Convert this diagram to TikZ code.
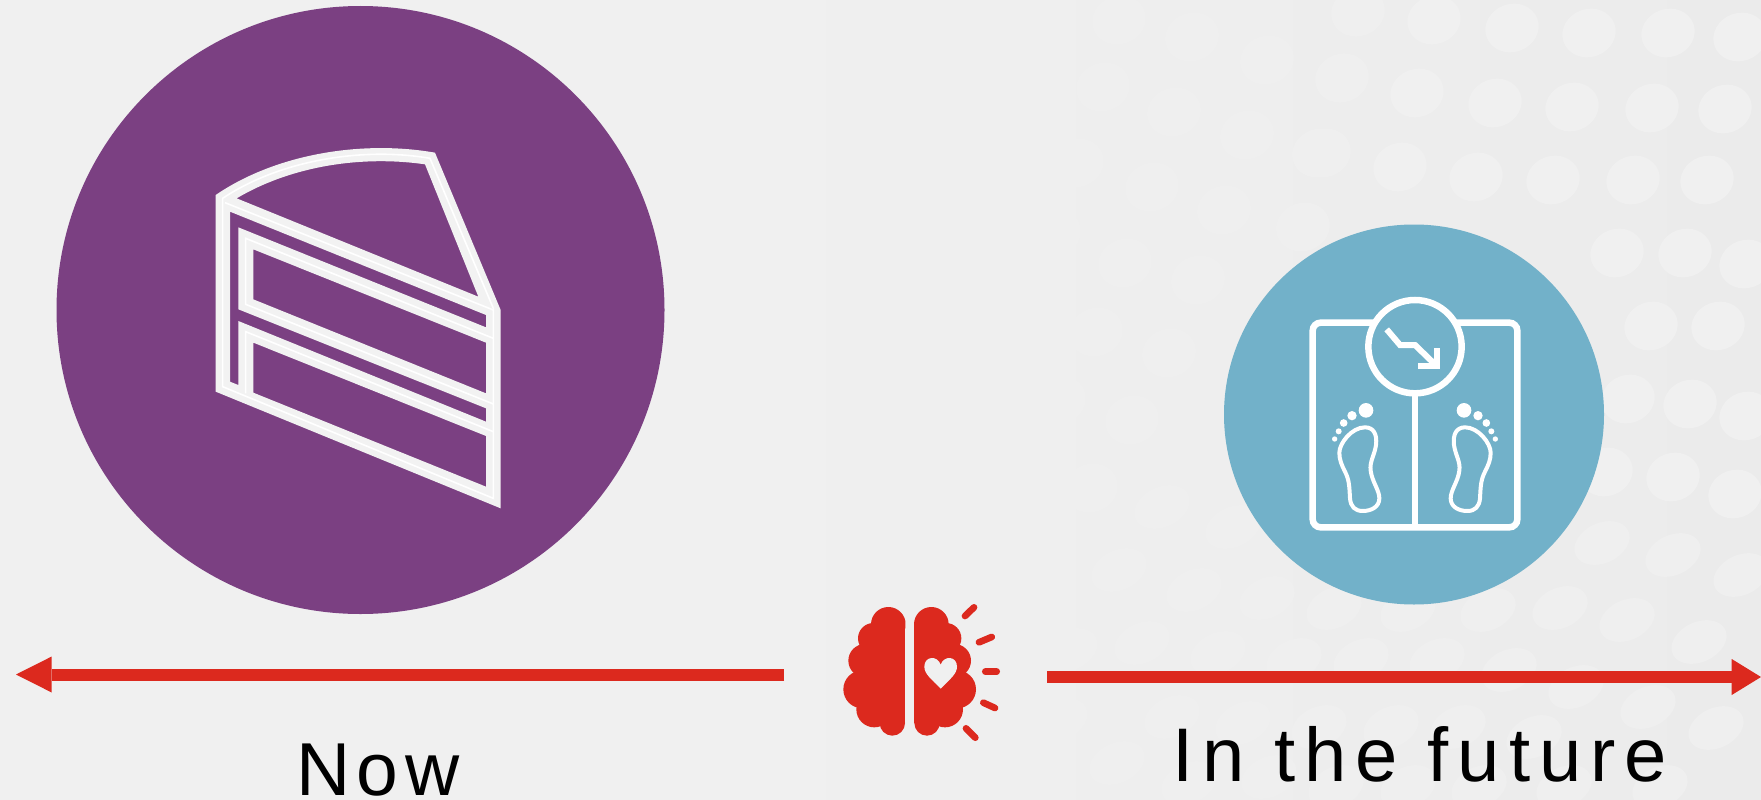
\documentclass[tikz,border=0pt]{standalone}
\usepackage{fontspec}
\setmainfont{Liberation Sans}
\usetikzlibrary{arrows.meta}
\definecolor{bgL}{HTML}{F0F0F0}
\definecolor{bgM}{HTML}{EEEEEE}
\definecolor{bgR}{HTML}{EBEBEB}
\definecolor{dotc}{HTML}{F0F0F0}
\definecolor{plum}{HTML}{7B4082}
\definecolor{sky}{HTML}{72B1C9}
\definecolor{redc}{HTML}{DC291E}
\definecolor{cakeline}{HTML}{F2F2F2}
\tikzset{
  bigdisc/.style={circle,inner sep=0pt,draw=none},
  timeline/.style={draw=redc,line width=12pt},
  caption/.style={inner sep=0pt,anchor=base west,text=black},
  icon/.style={draw=white,line width=6.5pt},
  ray/.style={redc,line width=6.7pt,line cap=round},
}
\begin{document}
\begin{tikzpicture}[x=1pt,y=-1pt]
\useasboundingbox (0,0) rectangle (1761,800);
% background
\fill[bgL] (0,0) rectangle (701,800);
\fill[left color=bgL,right color=bgM] (700,0) rectangle (1201,800);
\fill[left color=bgM,right color=bgR] (1200,0) rectangle (1761,800);
\foreach \px/\py in {957/30,1032/55,1119/20,1192/37,1267/60,937/100,1010/133,1103/87,1174/112,1247/135,1319/153,842/142,913/177,985/207,1077/163,1152/187,1224/210,1303/227,819/213,882/247,953/277,1054/233,1125/263,1198/280,1096/332,1169/353,1059/400,1132/420,989/378,916/347,851/323,812/378,876/412,948/440,1017/465,1091/488,771/443,839/475,903/500,726/497,794/530,862/560,1358/12,1434/20,1512/28,1589/33,1668/33,1740/37,1342/78,1417/93,1495/103,1572/107,1652/108,1725/109,1324/153,1400/167,1476/177,1553/180,1633/180,1707/180,1617/253,1685/253,1746/264,1651/326,1718/326,1628/399,1690/404,1746/416,1606/472,1673/477,1735/494}{
  \pgfmathsetmacro{\op}{min(1,max(.3,(\px-400)/1000))}
  \fill[dotc,fill opacity=\op] (\px,\py) circle [x radius=27,y radius=24,rotate=20];
}
\foreach \px/\py in {976/528,1048/550,1119/570,1194/590,1162/507,1233/527,930/587,748/583,1602/543,1673/555,1741/575,1267/598,1334/608,1408/610,1488/610,1560/608,1627/620,1699/642,1218/653,1294/660,1361/660,1437/660,1509/670,1576/687,1648/707,1716/728,1142/643,1172/717,1243/723,1319/727,1391/727,1458/727,1534/737,1117/763,1189/783,1269/777,1336/787,1408/787,1479/787,1564/787,1660/787,795/640,865/668,1000/628,1070/650,930/690,1000/715,850/715,786/739,920/760,1060/720}{
  \pgfmathsetmacro{\op}{min(.8,max(.3,(\px-400)/1300))}
  \fill[dotc,fill opacity=\op] (\px,\py) circle [x radius=29,y radius=20,rotate=25];
}

% discs
\node[bigdisc,fill=plum,minimum size=608pt] (nowDisc) at (360.5,310) {};
\node[bigdisc,fill=sky,minimum size=380pt] (futureDisc) at (1414,414.5) {};

% cake
\begin{scope}[shift={(190,130)},x=.33333pt,y=-.33333pt]
\fill[cakeline,even odd rule]
  (77,195) .. controls (260,70) and (520,30) .. (735,68) -- (932,540) -- (932,1135) -- (77,785) -- cycle
  (140,205) .. controls (300,110) and (510,75) .. (705,103) -- (865,500) -- cycle
  (120,245) -- (888,555) -- (888,592) -- (145,292) -- (145,538) -- (888,835) -- (888,875) -- (145,573) -- (145,765) -- (120,755) -- cycle
  (190,358) -- (888,638) -- (888,790) -- (190,508) -- cycle
  (190,638) -- (888,918) -- (888,1070) -- (190,788) -- cycle;
\draw[white,line width=1.6pt,line join=miter]
  (98,205) .. controls (270,90) and (520,50) .. (720,85) -- (910,535) -- (910,1105) -- (98,770) -- cycle;
\draw[white,line width=1.6pt] (105,218) -- (910,540);
\draw[white,line width=1.6pt] (910,625) -- (167,325) -- (167,523) -- (910,822);
\draw[white,line width=1.6pt] (910,905) -- (167,605) -- (167,790);
\end{scope}

% scale
\begin{scope}[shift={(1290,280)},x=.33333pt,y=-.33333pt]
\draw[icon,rounded corners=8pt] (68,128) rectangle (682,742);
\draw[icon] (375,340) -- (375,742);
\draw[icon,fill=sky] (375,200) circle [radius=140];
\draw[draw=white,line width=6pt] (290,148) -- (330,195) -- (375,195) -- (440,258);
\draw[draw=white,line width=6pt,line join=miter] (384,258) -- (442,258) -- (442,203);
\foreach \mx/\sx in {0/1,750/-1}{
  \begin{scope}[shift={(\mx,0)},xscale=\sx]
    \draw[white,line width=4pt,line join=round] (225,442) .. controls (250,442) and (262,462) .. (258,495)
      .. controls (254,525) and (238,545) .. (242,572)
      .. controls (246,605) and (268,630) .. (268,655)
      .. controls (268,680) and (245,693) .. (218,693)
      .. controls (195,693) and (182,680) .. (180,655)
      .. controls (178,620) and (178,600) .. (165,575)
      .. controls (155,555) and (148,540) .. (148,518)
      .. controls (148,490) and (185,442) .. (225,442) -- cycle;
    \fill[white] (228,391) circle [radius=22];
    \fill[white] (186,407) circle [radius=14];
    \fill[white] (161,429) circle [radius=11.5];
    \fill[white] (146,454) circle [radius=9];
    \fill[white] (134,477) circle [radius=8];
  \end{scope}
}
\end{scope}

% brain
\begin{scope}[shift={(830,590)},x=.33333pt,y=-.33333pt]
\begin{scope}
\clip (0,0) rectangle (226,480);
\fill[redc] (175,103) circle [radius=52];
\fill[redc] (130,145) circle [radius=46];
\fill[redc] (105,212) circle [radius=50];
\fill[redc] (97,298) circle [radius=57];
\fill[redc] (133,358) circle [radius=54];
\fill[redc] (187,399) circle [radius=38];
\fill[redc] (120,110) rectangle (226,399);
\end{scope}
\begin{scope}
\clip (252,0) rectangle (500,480);
\fill[redc] (304,103) circle [radius=52];
\fill[redc] (348,145) circle [radius=46];
\fill[redc] (373,212) circle [radius=50];
\fill[redc] (381,298) circle [radius=57];
\fill[redc] (345,358) circle [radius=54];
\fill[redc] (291,399) circle [radius=38];
\fill[redc] (252,103) rectangle (360,399);
\end{scope}
\fill[bgL] (332,296) .. controls (305,268) and (283,252) .. (283,230) .. controls (283,198) and (322,195) .. (332,224)
  .. controls (342,195) and (381,198) .. (381,230) .. controls (381,252) and (359,268) .. (332,296) -- cycle;
\draw[ray] (405,78) -- (432,52);
\draw[ray] (447,157) -- (485,141);
\draw[ray] (466,245) -- (500,245);
\draw[ray] (460,338) -- (495,354);
\draw[ray] (408,415) -- (436,443);
\end{scope}

% arrows
\coordinate (nowFrom) at (784,674.5);
\coordinate (nowTo) at (16,674.5);
\coordinate (futFrom) at (1047,677);
\coordinate (futTo) at (1761,677);
\draw[timeline,-{Triangle[length=35.7pt,width=36pt,line width=0pt,fill=redc]}] (nowFrom) -- (nowTo);
\draw[timeline,-{Triangle[length=29.3pt,width=36pt,line width=0pt,fill=redc]}] (futFrom) -- (futTo);

% captions
\node[caption] (nowLabel) at (296,795.7) {\fontsize{75}{75}\selectfont\addfontfeatures{LetterSpace=8.7}Now};
\node[caption] (futureLabel) at (1172,781) {\fontsize{76}{76}\selectfont\addfontfeatures{LetterSpace=11.7}In the future};
\end{tikzpicture}
\end{document}
